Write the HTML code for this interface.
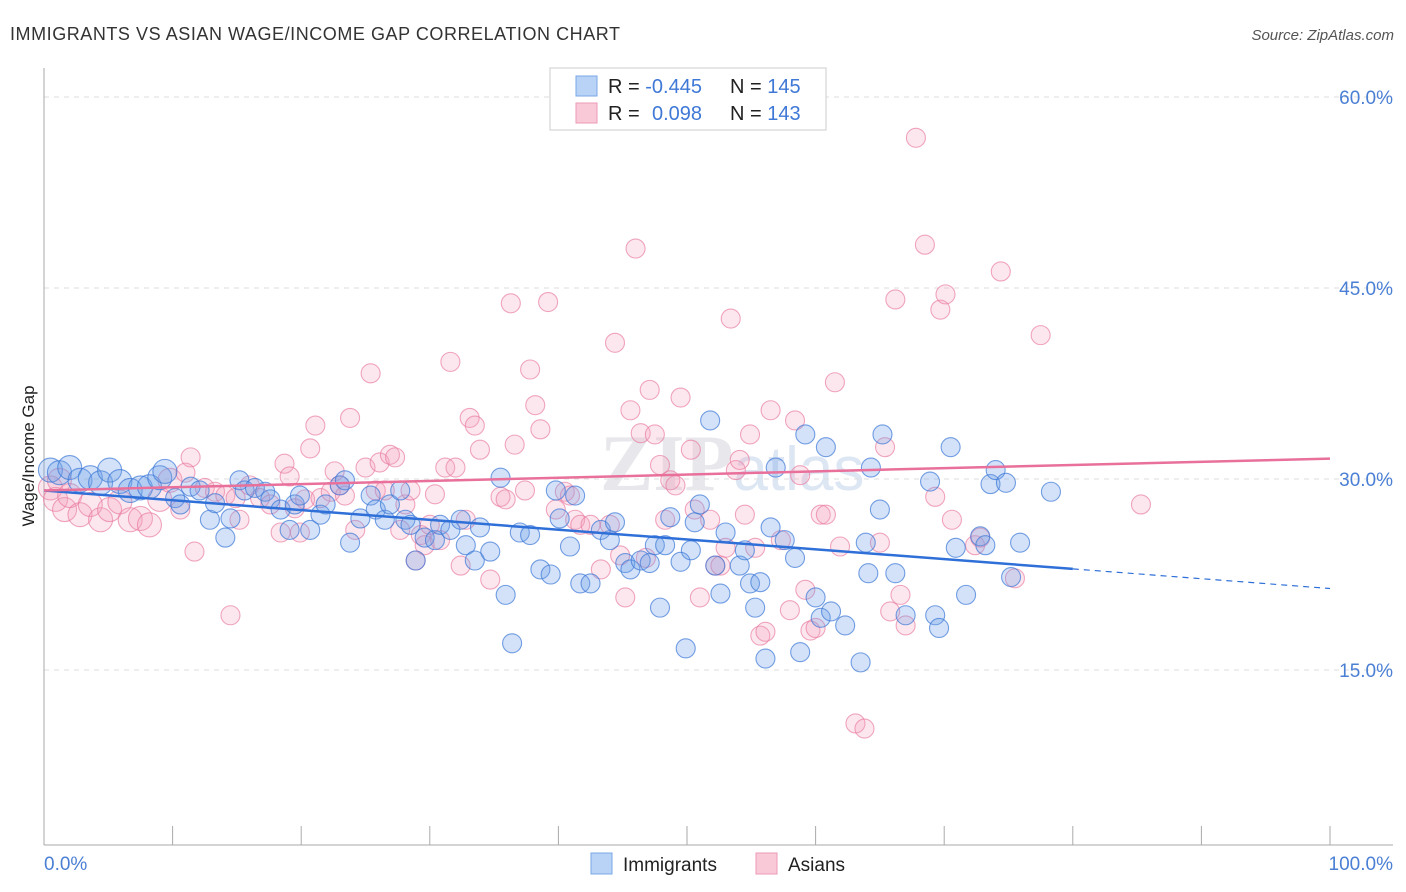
<!DOCTYPE html>
<html><head><meta charset="utf-8"><style>
body{margin:0;background:#fff;font-family:"Liberation Sans",sans-serif;}
#wrap{position:relative;width:1406px;height:892px;overflow:hidden;}
</style></head><body>
<div id="wrap">
<svg id="svg" width="1406" height="892" xmlns="http://www.w3.org/2000/svg">
<text x="10" y="40" font-size="18" fill="#333" textLength="610">IMMIGRANTS VS ASIAN WAGE/INCOME GAP CORRELATION CHART</text>
<text x="1394" y="40" font-size="15" fill="#555" font-style="italic" text-anchor="end">Source: ZipAtlas.com</text>
<text x="34" y="456" font-size="17" fill="#222" text-anchor="middle" transform="rotate(-90 34 456)">Wage/Income Gap</text>
<text x="600" y="490" font-size="80" fill="#e8e8ec" font-family="Liberation Serif,serif" font-weight="bold">ZIP<tspan font-family="Liberation Sans,sans-serif" font-weight="normal" font-size="62" fill="#dde6f3">atlas</tspan></text>
<g id="grid"></g><g id="axes"></g><g id="pink"></g><g id="blue"></g><g id="lines"></g>
<g>
<rect x="550" y="68" width="276" height="62" fill="#fff" stroke="#ccc"/>
<rect x="576" y="76" width="21" height="20" fill="#b8d3f5" stroke="#7aa7e6"/>
<rect x="576" y="103" width="21" height="20" fill="#f9c9d8" stroke="#ec9ab6"/>
<text x="608" y="93" font-size="20" fill="#222">R = <tspan fill="#3f78d6">-0.445</tspan><tspan x="730">N = </tspan><tspan fill="#3f78d6">145</tspan></text>
<text x="608" y="120" font-size="20" fill="#222">R = <tspan x="652" fill="#3f78d6">0.098</tspan><tspan x="730">N = </tspan><tspan fill="#3f78d6">143</tspan></text>
</g>
<g>
<rect x="591" y="853" width="21" height="21" fill="#b8d3f5" stroke="#7aa7e6"/>
<text x="623" y="871" font-size="19" fill="#222">Immigrants</text>
<rect x="756" y="853" width="21" height="21" fill="#f9c9d8" stroke="#ec9ab6"/>
<text x="788" y="871" font-size="19" fill="#222">Asians</text>
</g>
</svg>
</div>
<script>
const yTicks=[15,30,45,60];
const xTickLabels=["0.0%","100.0%"];
const blueX=[0.5,1.2,2.0,2.8,3.6,4.4,5.1,5.9,6.7,7.5,8.2,9.0,9.4,10.2,10.6,11.4,12.1,12.9,13.3,14.1,14.5,15.2,15.6,16.4,17.2,17.6,18.4,19.1,19.5,19.9,20.7,21.5,21.9,23.0,23.4,23.8,24.6,25.4,25.8,26.5,26.9,27.7,28.1,28.5,28.9,29.6,30.4,30.8,31.6,32.4,32.8,33.5,33.9,34.7,35.5,35.9,36.4,37.0,37.8,38.6,39.4,39.8,40.1,40.9,41.3,41.7,42.5,43.3,44.0,44.4,45.2,45.6,46.4,47.1,47.5,47.9,48.3,48.7,49.5,49.9,50.3,50.6,51.0,51.8,52.2,52.6,53.0,54.1,54.5,54.9,55.3,55.7,56.1,56.5,56.9,57.6,58.4,58.8,59.2,60.0,60.4,60.8,61.2,62.3,63.5,63.9,64.1,64.3,65.0,65.2,66.2,67.0,68.9,69.3,69.6,70.5,70.9,71.7,72.8,73.2,73.6,74.0,74.8,75.2,75.9,78.3];
const blueY=[30.7,30.5,30.9,29.9,30.1,29.7,30.7,29.8,29.1,29.3,29.4,30.1,30.6,28.5,28.0,29.4,29.1,26.8,28.1,25.4,26.9,29.9,29.1,29.3,29.0,28.4,27.6,26.0,28.0,28.7,26.0,27.2,28.0,29.5,29.9,25.0,26.9,28.7,27.6,26.8,28.0,29.1,26.8,26.4,23.6,25.4,25.2,26.4,26.0,26.8,24.8,23.6,26.2,24.3,30.1,20.9,17.1,25.8,25.6,22.9,22.5,29.1,26.9,24.7,28.7,21.8,21.8,26.0,25.2,26.6,23.4,22.9,23.6,23.4,24.8,19.9,24.8,27.0,23.5,16.7,24.4,26.6,28.0,34.6,23.2,21.0,25.8,23.2,24.4,21.8,19.9,21.9,15.9,26.2,30.9,25.2,23.8,16.4,33.5,20.7,19.1,32.5,19.6,18.5,15.6,25.0,22.6,30.9,27.6,33.5,22.6,19.3,29.8,19.3,18.3,32.5,24.6,20.9,25.5,24.8,29.6,30.7,29.7,22.3,25.0,29.0];
const pinkX=[0.5,0.9,1.2,1.6,2.0,2.8,3.6,4.4,5.1,5.9,6.7,7.5,8.2,9.0,9.8,10.6,11.0,11.4,11.7,12.5,13.3,14.1,14.5,14.9,15.2,16.0,16.8,17.6,18.4,18.7,19.1,19.5,19.9,20.3,20.7,21.1,21.5,22.3,22.6,23.0,23.4,23.8,24.2,25.0,25.4,25.8,26.1,26.5,26.9,27.3,27.7,28.1,28.5,28.9,29.3,29.6,30.0,30.4,30.8,31.2,31.6,32.0,32.4,32.8,33.1,33.5,33.9,34.7,35.5,35.9,36.3,36.6,37.4,37.8,38.2,38.6,39.2,39.8,40.5,40.9,41.3,41.7,42.5,43.3,44.0,44.4,44.8,45.2,45.6,46.0,46.4,46.8,47.1,47.5,47.9,48.3,48.7,49.1,49.5,50.3,50.6,51.0,51.8,52.2,52.6,53.0,53.4,53.8,54.1,54.5,54.9,55.3,55.7,56.1,56.5,57.3,58.0,58.4,58.8,59.2,59.6,60.0,60.4,60.8,61.5,61.9,63.1,63.8,65.0,65.4,65.8,66.2,66.6,67.0,67.8,68.5,69.3,69.7,70.1,70.6,72.4,72.8,74.4,75.5,77.5,85.3];
const pinkY=[29.3,28.4,29.9,27.6,28.7,27.2,28.0,26.8,27.6,28.2,26.8,26.9,26.4,28.4,29.9,27.6,30.5,31.7,24.3,29.3,29.0,28.7,19.3,28.5,26.8,29.5,28.5,28.0,25.8,31.2,30.2,27.7,25.8,28.4,32.4,34.2,28.5,29.0,30.6,29.5,28.7,34.8,26.0,30.9,38.3,29.1,31.3,29.1,31.9,31.7,26.0,28.0,29.1,23.6,25.6,24.8,26.4,28.8,25.2,30.9,39.2,30.9,23.2,26.8,34.8,34.2,32.3,22.1,28.6,28.4,43.8,32.7,29.1,38.6,35.8,33.9,43.9,27.6,29.0,28.7,26.8,26.4,26.4,22.9,26.4,40.7,24.0,20.7,35.4,48.1,33.6,23.8,37.0,33.5,31.1,26.8,29.9,29.5,36.4,32.3,27.6,20.7,26.8,23.2,23.2,24.6,42.6,30.7,31.5,27.2,33.5,24.6,17.7,18.0,35.4,25.2,19.7,34.6,30.3,21.3,18.1,18.3,27.2,27.2,37.6,24.7,10.8,10.4,25.0,32.5,19.6,44.1,20.9,18.5,56.8,48.4,28.6,43.3,44.5,26.8,24.8,25.4,46.3,22.2,41.3,28.0];
const blueTrend=[29.1,21.4];
const pinkTrend=[29.1,31.6];
const NS="http://www.w3.org/2000/svg";
const X0=44,X1=1330,Y0=861,PX=12.733;
const sx=v=>X0+(X1-X0)*v/100, sy=v=>Y0-v*PX;
function mk(p,tag,a){const e=document.createElementNS(NS,tag);for(const k in a)e.setAttribute(k,a[k]);document.getElementById(p).appendChild(e);return e;}
yTicks.forEach(t=>{
 const l=mk('grid','line',{x1:44,x2:1393,y1:sy(t),y2:sy(t),stroke:'#ddd','stroke-dasharray':'5,5'});
 
 
 const tx=mk('grid','text',{x:1393,y:sy(t)+7,'font-size':19,fill:'#4a7fd4','text-anchor':'end'});
 tx.textContent=t.toFixed(1)+'%';
 
 
});
const ya=mk('axes','line',{x1:44,x2:44,y1:68,y2:845,stroke:'#aaa'});


const xa=mk('axes','line',{x1:44,x2:1393,y1:845,y2:845,stroke:'#aaa'});


for(let i=0;i<=10;i++){const t=mk('axes','line',{x1:sx(i*10),x2:sx(i*10),y1:826,y2:845,stroke:'#aaa'});
 
 }
[[0,'start',44],[100,'end',1393]].forEach((d,i)=>{const t=mk('axes','text',{x:d[2],y:870,'font-size':19,fill:'#4a7fd4','text-anchor':d[1]});t.textContent=xTickLabels[i];
 
 });
function pts(g,xs,ys,fill,stroke,name){xs.forEach((x,i)=>{const r=x<10?12:9.5;
 const c=mk(g,'circle',{cx:sx(x),cy:sy(ys[i]),r:r,fill:fill,stroke:stroke,'stroke-width':1.1});
 
 });}
pts('pink',pinkX,pinkY,'rgba(244,160,188,0.25)','rgba(232,120,158,0.65)','asians-point');
pts('blue',blueX,blueY,'rgba(110,160,232,0.3)','rgba(60,120,215,0.7)','immigrants-point');
const bAt=v=>blueTrend[0]+(blueTrend[1]-blueTrend[0])*v/100;
const b1=mk('lines','line',{x1:sx(0),y1:sy(bAt(0)),x2:sx(80),y2:sy(bAt(80)),stroke:'#2f6fd8','stroke-width':2.5});


const b2=mk('lines','line',{x1:sx(80),y1:sy(bAt(80)),x2:sx(100),y2:sy(bAt(100)),stroke:'#2f6fd8','stroke-width':1.2,'stroke-dasharray':'6,5'});


const p1=mk('lines','line',{x1:sx(0),y1:sy(pinkTrend[0]),x2:sx(100),y2:sy(pinkTrend[1]),stroke:'#e8709a','stroke-width':2.5});


</script>
</body></html>
